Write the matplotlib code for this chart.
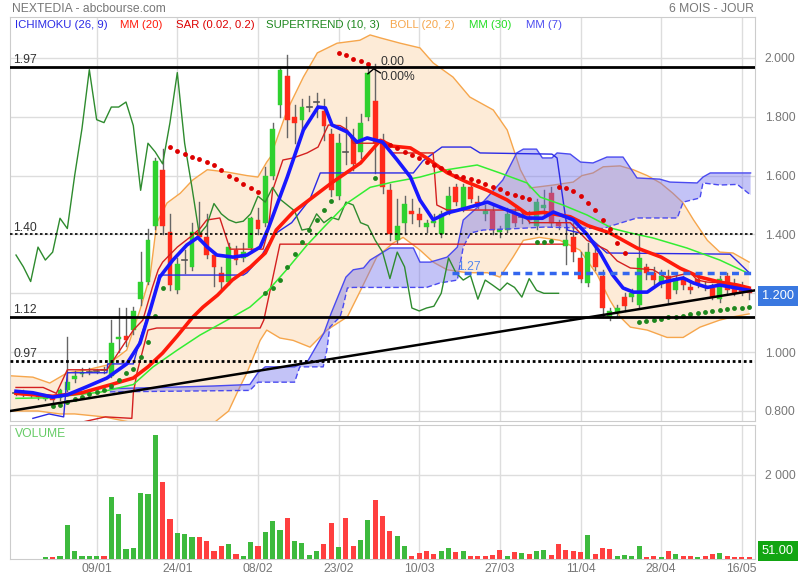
import matplotlib
matplotlib.use('Agg')
import matplotlib.pyplot as plt
import numpy as np

plt.rcParams['font.family'] = ['Liberation Sans', 'DejaVu Sans']

# daily candles, one per trading day (index 0..100)
opens = [0.860, 0.866, 0.852, 0.852, 0.842, 0.846, 0.845, 0.872, 0.908, 0.925,
         0.932, 0.934, 0.936, 0.920, 1.045, 1.055, 1.075, 1.180, 1.240, 1.430,
         1.620, 1.410, 1.210, 1.310, 1.290, 1.410, 1.390, 1.330, 1.270, 1.238,
         1.347, 1.320, 1.354, 1.450, 1.440, 1.600, 1.840, 1.940, 1.800, 1.790,
         1.830, 1.850, 1.820, 1.740, 1.530, 1.680, 1.720, 1.680, 1.800, 1.854,
         1.720, 1.550, 1.380, 1.440, 1.480, 1.470, 1.425, 1.440, 1.400, 1.480,
         1.560, 1.490, 1.560, 1.510, 1.470, 1.480, 1.410, 1.415, 1.470, 1.462,
         1.460, 1.430, 1.490, 1.540, 1.440, 1.360, 1.390, 1.320, 1.235, 1.337,
         1.260, 1.120, 1.136, 1.187, 1.187, 1.160, 1.290, 1.270, 1.230, 1.260,
         1.210, 1.250, 1.220, 1.250, 1.225, 1.217, 1.180, 1.260, 1.230, 1.217,
         1.215]
highs = [0.866, 0.870, 0.860, 0.856, 0.852, 0.850, 0.876, 1.050, 0.935, 0.945,
         0.946, 0.944, 0.948, 1.110, 1.150, 1.150, 1.155, 1.340, 1.420, 1.660,
         1.690, 1.470, 1.320, 1.347, 1.440, 1.510, 1.470, 1.340, 1.290, 1.370,
         1.360, 1.370, 1.460, 1.490, 1.630, 1.780, 1.970, 2.010, 1.840, 1.860,
         1.870, 1.880, 1.860, 1.760, 1.740, 1.800, 1.760, 1.810, 1.970, 1.980,
         1.740, 1.570, 1.520, 1.530, 1.520, 1.490, 1.450, 1.470, 1.480, 1.560,
         1.570, 1.570, 1.580, 1.530, 1.500, 1.500, 1.430, 1.490, 1.490, 1.480,
         1.480, 1.520, 1.550, 1.560, 1.450, 1.450, 1.440, 1.340, 1.370, 1.360,
         1.280, 1.150, 1.160, 1.200, 1.215, 1.400, 1.300, 1.290, 1.280, 1.280,
         1.270, 1.260, 1.240, 1.260, 1.240, 1.230, 1.260, 1.270, 1.250, 1.240,
         1.220]
lows = [0.855, 0.850, 0.846, 0.840, 0.836, 0.830, 0.836, 0.868, 0.900, 0.918,
        0.925, 0.928, 0.930, 0.915, 1.000, 1.020, 1.060, 1.160, 1.230, 1.420,
        1.400, 1.210, 1.200, 1.270, 1.280, 1.380, 1.320, 1.225, 1.210, 1.230,
        1.300, 1.310, 1.340, 1.400, 1.430, 1.590, 1.800, 1.730, 1.710, 1.750,
        1.820, 1.800, 1.720, 1.530, 1.520, 1.640, 1.620, 1.660, 1.790, 1.610,
        1.540, 1.380, 1.370, 1.400, 1.440, 1.430, 1.410, 1.430, 1.390, 1.470,
        1.500, 1.480, 1.510, 1.490, 1.450, 1.400, 1.390, 1.410, 1.430, 1.440,
        1.440, 1.420, 1.470, 1.430, 1.420, 1.300, 1.310, 1.240, 1.225, 1.280,
        1.120, 1.110, 1.120, 1.140, 1.175, 1.150, 1.250, 1.230, 1.220, 1.170,
        1.200, 1.215, 1.200, 1.220, 1.210, 1.180, 1.170, 1.200, 1.195, 1.195,
        1.180]
closes = [0.860, 0.853, 0.855, 0.846, 0.848, 0.837, 0.870, 0.900, 0.920, 0.933,
          0.934, 0.936, 0.938, 1.030, 1.050, 1.040, 1.140, 1.240, 1.380, 1.650,
          1.430, 1.228, 1.300, 1.314, 1.410, 1.392, 1.330, 1.290, 1.240, 1.357,
          1.313, 1.340, 1.455, 1.420, 1.600, 1.760, 1.960, 1.790, 1.780, 1.833,
          1.833, 1.850, 1.770, 1.550, 1.710, 1.680, 1.640, 1.780, 1.950, 1.710,
          1.560, 1.400, 1.430, 1.505, 1.470, 1.450, 1.440, 1.445, 1.470, 1.530,
          1.510, 1.560, 1.520, 1.500, 1.480, 1.415, 1.420, 1.470, 1.440, 1.458,
          1.450, 1.510, 1.500, 1.440, 1.430, 1.380, 1.340, 1.250, 1.340, 1.290,
          1.150, 1.140, 1.150, 1.156, 1.200, 1.320, 1.270, 1.245, 1.260, 1.180,
          1.245, 1.228, 1.210, 1.235, 1.220, 1.187, 1.250, 1.210, 1.200, 1.200,
          1.200]

volumes = [5, 5, 5, 8, 55, 40, 80, 815, 180, 80,
           63, 71, 71, 1480, 1067, 245, 270, 1572, 1556, 2947,
           1833, 956, 624, 600, 521, 521, 419, 190, 316, 363,
           110, 79, 411, 308, 640, 908, 687, 980, 434, 379,
           103, 198, 363, 861, 292, 972, 316, 458, 940, 1398,
           1019, 672, 537, 316, 79, 142, 190, 110, 198, 269,
           166, 190, 63, 79, 63, 87, 221, 71, 158, 142,
           110, 198, 205, 103, 363, 221, 198, 174, 561, 126,
           269, 229, 63, 95, 79, 316, 55, 63, 55, 198,
           119, 71, 79, 55, 79, 119, 150, 79, 47, 47,
           51]
# g = up day, r = down day, ten per group
volumeUp = ("grgrgrgggg ggrggggggg rrgggrrrrg rggrgggrgg ggrrgrrggr "
            "rrggrrrrgg rgrrrrrgrg rggrrrrrgr rrggggrrgr grrgrrgrrr r").replace(' ', '')

dateIdx = [11, 22, 33, 44, 55, 66, 77, 88, 99]
dateLabels = ['09/01', '24/01', '08/02', '23/02', '10/03', '27/03', '11/04', '28/04', '16/05']

# moving averages (bar index, price)
mm7Idx = [0, 2.3, 5, 7, 9.7, 12.4, 15.1, 16.9, 18.3, 19.6, 21.4, 23.3, 24.8, 26.1, 27.4, 29.6,
          31.5, 33.3, 34.4, 37, 39.2, 41.2, 42.2, 43.1, 45.2, 46.5, 47.9, 50, 52, 53.8, 55.1,
          56.9, 58.8, 61.5, 64.3, 67, 69.7, 71.8, 73.3, 76, 77.9, 79.7, 81.4, 82.8, 84.2,
          86.1, 87.9, 89.6, 91, 92.4, 94.3, 96, 97.8, 100]
mm7Val = [0.867, 0.862, 0.847, 0.855, 0.883, 0.912, 0.96, 1.03, 1.143, 1.255, 1.313, 1.364,
          1.39, 1.357, 1.33, 1.323, 1.33, 1.357, 1.42, 1.595, 1.755, 1.833, 1.83, 1.772,
          1.748, 1.714, 1.728, 1.714, 1.653, 1.595, 1.517, 1.45, 1.473, 1.49, 1.51, 1.483,
          1.456, 1.455, 1.476, 1.45, 1.40, 1.337, 1.262, 1.218, 1.204, 1.204, 1.235, 1.245,
          1.252, 1.235, 1.22, 1.228, 1.22, 1.21]
mm20Idx = [0, 5, 9, 13, 16, 18, 20, 22, 24, 25.5, 27.5, 29.5, 32, 34, 35.5, 37.8, 40.5, 43.2,
           47, 49.7, 51.4, 53.8, 56, 58.8, 61.5, 64.3, 67, 69.7, 72, 75.6, 78, 81, 84.7, 88,
           90.6, 93.3, 96, 98.4, 100]
mm20Val = [0.86, 0.85, 0.862, 0.89, 0.912, 0.95, 0.997, 1.055, 1.116, 1.153, 1.194, 1.245,
           1.29, 1.337, 1.415, 1.476, 1.527, 1.578, 1.643, 1.72, 1.70, 1.694, 1.66, 1.61,
           1.578, 1.55, 1.517, 1.47, 1.475, 1.46, 1.43, 1.405, 1.354, 1.323, 1.285, 1.255,
           1.238, 1.228, 1.218]
mm30Idx = [0, 4.6, 11.5, 16, 18.7, 22, 25.1, 28.8, 31.9, 34.2, 36.9, 39.7, 42.2, 45.2, 48.3,
           51.4, 55.1, 58.8, 62.9, 66, 69.7, 71.5, 74.6, 77.9, 81.4, 83.8, 86.9, 91.5, 96, 99.7]
mm30Val = [0.843, 0.845, 0.864, 0.89, 0.95, 1.007, 1.058, 1.109, 1.153, 1.204, 1.28, 1.364,
           1.43, 1.507, 1.56, 1.578, 1.595, 1.62, 1.636, 1.609, 1.575, 1.527, 1.50, 1.466,
           1.42, 1.405, 1.388, 1.354, 1.313, 1.27]

# bollinger bands (20, 2)
bollUpIdx = [-1, 2.3, 4.6, 7, 9.7, 12.4, 15.1, 16.9, 18.3, 19.2, 20.6, 22.4, 24.1, 26.1, 28.8,
             31.5, 33, 34.2, 34.7, 37, 39.2, 41.1, 43.8, 46.9, 48.3, 49.7, 52.4, 55.1, 56.9,
             59.6, 61.9, 65.1, 67, 68.8, 70.1, 73.3, 76, 77.2, 78.7, 80.1, 82.4, 84.2, 86.1,
             87.9, 89.6, 91, 92.4, 94.3, 96, 97.8, 100]
bollUpVal = [0.92, 0.915, 0.895, 0.93, 0.94, 0.956, 1.007, 1.143, 1.26, 1.44, 1.507, 1.54,
             1.585, 1.62, 1.612, 1.60, 1.595, 1.646, 1.663, 1.823, 1.935, 2.017, 2.05, 2.06,
             2.078, 2.068, 2.05, 2.034, 1.983, 1.935, 1.867, 1.823, 1.755, 1.62, 1.558, 1.568,
             1.578, 1.60, 1.609, 1.63, 1.633, 1.62, 1.60, 1.575, 1.54, 1.507, 1.45, 1.38,
             1.34, 1.337, 1.306]
bollLowIdx = [-1, 3, 6, 8, 10, 12, 14, 16, 20, 25, 27, 29, 30.5, 31.5, 33.3, 34.2, 36, 37.8,
              40.1, 42.4, 45.2, 47, 49.2, 51.4, 52.8, 55.1, 56.9, 58.8, 61.5, 64.3, 66, 67.8,
              69.2, 71.4, 74.2, 76.9, 79.3, 81, 82.4, 83.8, 86.1, 88.8, 91, 93.3, 96, 97.8, 100]
bollLowVal = [0.80, 0.80, 0.79, 0.79, 0.785, 0.78, 0.77, 0.76, 0.755, 0.755, 0.76, 0.80,
              0.88, 0.93, 1.04, 1.075, 1.048, 1.04, 1.017, 1.075, 1.12, 1.21, 1.323, 1.37,
              1.39, 1.347, 1.306, 1.28, 1.27, 1.27, 1.255, 1.323, 1.38, 1.39, 1.38, 1.347,
              1.262, 1.177, 1.12, 1.085, 1.075, 1.05, 1.05, 1.085, 1.109, 1.12, 1.13]

# ichimoku (26, 9)
spanAIdx = [12.8, 20, 27, 31.9, 33, 34, 38, 39.8, 42, 43, 45, 46, 47.4, 48.3, 51, 54.2, 55.1,
            56.5, 58.8, 60.2, 61, 63.6, 66.4, 68.3, 69.2, 71, 71.8, 73.1, 73.8, 75.6, 77, 78.7,
            80.6, 82.8, 84.7, 87.8, 89.2, 92.9, 93.7, 94.7, 100.2]
spanAVal = [0.876, 0.88, 0.885, 0.89, 0.93, 0.95, 0.95, 0.97, 1.065, 1.133, 1.255, 1.28,
            1.286, 1.313, 1.354, 1.354, 1.306, 1.306, 1.323, 1.357, 1.449, 1.507, 1.585,
            1.677, 1.69, 1.69, 1.66, 1.66, 1.677, 1.673, 1.646, 1.643, 1.663, 1.663, 1.592,
            1.588, 1.578, 1.575, 1.595, 1.609, 1.609]
spanBIdx = [12.8, 31.9, 33, 38, 38.7, 41.9, 42.4, 42.8, 44.2, 44.6, 45.2, 46, 56, 57.8, 60.2,
            61, 62, 63.7, 68.3, 72, 80, 84.7, 90.2, 91, 93.3, 93.7, 96, 98.4, 100.2]
spanBVal = [0.865, 0.87, 0.898, 0.898, 0.95, 0.95, 1.007, 1.085, 1.12, 1.153, 1.218, 1.22,
            1.22, 1.235, 1.245, 1.357, 1.405, 1.415, 1.42, 1.425, 1.42, 1.456, 1.456, 1.51,
            1.524, 1.575, 1.568, 1.57, 1.534]
kijunIdx = [2.3, 4.5, 6.5, 7, 12.4, 12.5, 16, 17, 19, 19.5, 31, 31.5, 33.3, 35.2, 37.6, 40.1,
            41.5, 54.2, 55.5, 58.1, 62, 63.3, 73.1, 73.8, 75.2, 77.8, 80.6, 97.4, 100]
kijunVal = [0.775, 0.79, 0.78, 0.93, 0.93, 0.96, 0.96, 1.05, 1.20, 1.262, 1.262, 1.27, 1.32,
            1.40, 1.44, 1.52, 1.609, 1.609, 1.65, 1.697, 1.697, 1.677, 1.673, 1.66, 1.415,
            1.40, 1.337, 1.333, 1.27]
tenkanIdx = [0, 3.7, 5.5, 7, 12.4, 14, 16, 17.3, 18.6, 19.4, 20, 22, 23.7, 25.1, 26, 27.8,
             29.2, 33.7, 34.4, 35, 36.4, 37.8, 39.7, 41.2, 42.6, 44.2, 45.2, 46, 48.3, 49.7,
             50.6, 51.3, 56.9, 57.4, 58.8, 68.8, 70.1, 75.6, 77.9, 80.6, 82, 83.8, 86.9,
             88.8, 90.2, 92, 92.9, 94.3, 96.5, 97.8, 100]
tenkanVal = [0.88, 0.88, 0.86, 0.94, 0.94, 1.0, 1.075, 1.109, 1.22, 1.28, 1.306, 1.357, 1.39,
             1.42, 1.449, 1.456, 1.35, 1.35, 1.415, 1.55, 1.653, 1.66, 1.677, 1.697, 1.772,
             1.77, 1.755, 1.71, 1.71, 1.71, 1.70, 1.677, 1.677, 1.50, 1.483, 1.483, 1.44,
             1.44, 1.38, 1.347, 1.31, 1.286, 1.28, 1.252, 1.26, 1.27, 1.245, 1.238, 1.235,
             1.228, 1.21]
levelIdx = [5, 12.2, 15.8, 16, 16.5, 18, 19.2, 33.3, 33.8, 36, 74.6]
levelVal = [0.74, 0.78, 0.775, 0.86, 0.93, 1.075, 1.082, 1.082, 1.109, 1.367, 1.367]
chikouShift = 26

# parabolic SAR (0.02, 0.2) and supertrend (10, 3)
sarIdx = list(range(21, 34)) + list(range(44, 49)) + list(range(51, 71)) + list(range(74, 84))
sarVal = [1.697, 1.684, 1.673, 1.663, 1.656, 1.646, 1.636, 1.62, 1.60, 1.588, 1.571, 1.558, 1.544,
          2.017, 2.01, 1.997, 1.99, 1.98,
          1.704, 1.694, 1.68, 1.67, 1.66, 1.646, 1.636, 1.626, 1.612, 1.60, 1.595, 1.588, 1.58,
          1.571, 1.56, 1.554, 1.54, 1.534, 1.527, 1.52,
          1.56, 1.558, 1.548, 1.53, 1.507, 1.483, 1.45, 1.42, 1.37, 1.337]
stIdx = list(range(5, 21)) + list(range(34, 44)) + [49, 71, 72, 73] + list(range(85, 101))
stVal = [0.816, 0.82, 0.83, 0.84, 0.847, 0.857, 0.864, 0.871, 0.884, 0.905, 0.93, 0.942, 0.983,
         1.034, 1.122, 1.218,
         1.20, 1.218, 1.245, 1.29, 1.333, 1.374, 1.415, 1.449, 1.483, 1.514,
         1.592, 1.374, 1.374, 1.377,
         1.102, 1.105, 1.109, 1.112, 1.12, 1.12, 1.122, 1.13, 1.133, 1.136, 1.14, 1.143, 1.146,
         1.15, 1.15, 1.153]

# drawn levels
hLevelsSolid = [1.97, 1.12]
hLevelsDotted = [1.40, 0.97]
level127 = 1.27
level127Start = 59.5
trendStart = 0.80
trendEnd = 1.21
lastClose = 1.200
lastVolume = '51.00'

GREEN = '#2fd12f'
RED = '#ff2a1a'
VGREEN = '#3dba3d'
VRED = '#ff3f3f'
FS = 8.2

fig = plt.figure(figsize=(8, 5.8), dpi=100)
axPrice = fig.add_axes([10 / 800, 1 - 421 / 580, 745 / 800, 404 / 580])
axVol = fig.add_axes([10 / 800, 1 - 559 / 580, 745 / 800, 134 / 580])
xMin, xMax = -0.82, 100.8

for ax in (axPrice, axVol):
    ax.set_xlim(xMin, xMax)
    ax.set_xticks(dateIdx)
    ax.grid(True, color='#dddddd', linewidth=1, zorder=0)
    ax.set_axisbelow(True)
    for side in ax.spines:
        ax.spines[side].set_color('#cccccc')
    ax.yaxis.tick_right()
    ax.tick_params(length=0, colors='#777777', labelsize=FS + 0.6)

axPrice.set_ylim(0.766, 2.139)
priceTicks = [0.8, 1.0, 1.2, 1.4, 1.6, 1.8, 2.0]
axPrice.set_yticks(priceTicks)
axPrice.set_yticklabels(['%.3f' % t if t != 1.2 else '' for t in priceTicks])
axPrice.set_xticklabels([])
axPrice.tick_params(axis='y', pad=7)

idx = np.arange(len(closes))

# bollinger band
bx = np.concatenate([bollUpIdx, bollLowIdx[::-1]])
by = np.concatenate([bollUpVal, bollLowVal[::-1]])
axPrice.fill(bx, by, color='#fdebd7', zorder=1, linewidth=0)
axPrice.plot(bollUpIdx, bollUpVal, color='#f6a64c', lw=1, zorder=2)
axPrice.plot(bollLowIdx, bollLowVal, color='#f6a64c', lw=1, zorder=2)

# candles
for i in idx:
    o, h, l, c = opens[i], highs[i], lows[i], closes[i]
    axPrice.plot([i, i], [l, h], color='#666666', lw=1, zorder=3)
    if abs(c - o) < 0.005:
        axPrice.plot([i - 0.35, i + 0.35], [c, c], color='#555555', lw=1.2, zorder=3)
    else:
        col = GREEN if c > o else RED
        axPrice.bar(i, c - o, bottom=o, width=0.66, color=col, edgecolor=col, lw=0.3, zorder=3)

# ichimoku cloud
cx = np.concatenate([spanAIdx, spanBIdx[::-1]])
cy = np.concatenate([spanAVal, spanBVal[::-1]])
axPrice.fill(cx, cy, color='#7272ee', alpha=0.42, zorder=4, linewidth=0)
axPrice.plot(spanAIdx, spanAVal, color='#4a4af0', lw=1, zorder=4)
axPrice.plot(spanBIdx, spanBVal, color='#4a4af0', lw=1, ls=(0, (4, 2)), zorder=4)
axPrice.plot(kijunIdx, kijunVal, color='#2a2ae6', lw=1, zorder=5)
axPrice.plot(tenkanIdx, tenkanVal, color='#d42020', lw=1, zorder=5)
axPrice.plot(levelIdx, levelVal, color='#d42020', lw=1, zorder=5)
axPrice.plot(idx[chikouShift:] - chikouShift, closes[chikouShift:], color='#2e8b2e', lw=1, zorder=5)

# moving averages
axPrice.plot(mm30Idx, mm30Val, color='#33ee33', lw=1.1, zorder=6)
axPrice.plot(mm20Idx, mm20Val, color='#ff1a0a', lw=2.6, zorder=6)
axPrice.plot(mm7Idx, mm7Val, color='#1818ff', lw=2.6, zorder=7)

# sar and supertrend dots
axPrice.plot(sarIdx, sarVal, 'o', color='#dd0000', ms=3.5, mew=0, zorder=8)
axPrice.plot(stIdx, stVal, 'o', color='#1e871e', ms=3.5, mew=0, zorder=8)

# levels
for lv in hLevelsSolid:
    axPrice.axhline(lv, color='black', lw=2, zorder=9)
axPrice.axhline(hLevelsDotted[0], color='black', lw=1.2, ls=(0, (1.5, 1.5)), zorder=9)
axPrice.axhline(hLevelsDotted[1], color='black', lw=2, ls=(0, (1, 1)), zorder=9)
for lv in hLevelsSolid + hLevelsDotted:
    axPrice.text(-0.4, lv + 0.012, '%.2f' % lv, color='#333333', fontsize=FS + 0.5, zorder=10)
axPrice.plot([level127Start, xMax], [level127, level127], color='#3366ee', lw=2.5,
             ls=(0, (2, 1.5)), zorder=9)
axPrice.text(level127Start + 0.6, level127 + 0.01, '1.27', color='#5588ee', fontsize=FS + 0.5, zorder=10)
axPrice.plot([xMin, xMax], [trendStart, trendEnd], color='black', lw=1.8, zorder=9)

# 0.00 marker
axPrice.plot([48.0, 48.8, 49.7], [1.946, 1.963, 1.949], color='black', lw=1, zorder=10)
axPrice.text(49.7, 1.975, '0.00', color='#333333', fontsize=FS + 0.5, zorder=10)
axPrice.text(49.7, 1.925, '0.00%', color='#333333', fontsize=FS + 0.5, zorder=10)

# volume
vcols = [VGREEN if u == 'g' else VRED for u in volumeUp]
axVol.bar(idx, volumes, width=0.7, color=vcols, zorder=3)
axVol.set_ylim(0, 3190)
axVol.set_yticks([2000])
axVol.set_yticklabels(['2 000'])
axVol.set_xticklabels(dateLabels)
axVol.tick_params(axis='x', pad=3)
axVol.tick_params(axis='y', pad=7)
axVol.text(0.007, 0.93, 'VOLUME', transform=axVol.transAxes, color='#66cc66', fontsize=FS + 0.5,
           va='center')

# header and legend
fig.text(12 / 800, 1 - 9 / 580, 'NEXTEDIA - abcbourse.com', color='#777777', fontsize=FS + 0.5, va='center')
fig.text(754 / 800, 1 - 9 / 580, '6 MOIS - JOUR', color='#777777', fontsize=FS + 0.5, va='center', ha='right')
legendItems = [('ICHIMOKU (26, 9)', '#2a2ae6', 15), ('MM (20)', '#ff1a0a', 120),
               ('SAR (0.02, 0.2)', '#dd0000', 176), ('SUPERTREND (10, 3)', '#1e871e', 266),
               ('BOLL (20, 2)', '#f6a64c', 390), ('MM (30)', '#22dd22', 469),
               ('MM (7)', '#4a4af0', 526)]
for label, col, xp in legendItems:
    fig.text(xp / 800, 1 - 25 / 580, label, color=col, fontsize=FS, va='center')

# last values
fig.text(762 / 800, 1 - 296 / 580, '%.3f' % lastClose, color='white', fontsize=FS + 1, va='center',
         bbox=dict(boxstyle='square,pad=0.35', fc='#3a78e0', ec='none'))
fig.text(762 / 800, 1 - 551 / 580, lastVolume, color='white', fontsize=FS + 1, va='center',
         bbox=dict(boxstyle='square,pad=0.35', fc='#12a512', ec='none'))

fig.savefig('out.png', dpi=100)
